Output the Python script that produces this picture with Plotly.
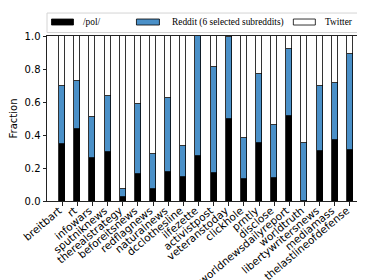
import plotly.graph_objects as go

categories = ["breitbart", "rt", "infowars", "sputniknews", "therealstrategy",
              "beforeitsnews", "redflagnews", "naturalnews", "dcclothesline", "ilfezette",
              "activistpost", "veteranstoday", "clickhole", "prntly", "disclose",
              "worldnewsdailyreport", "worldtruth", "libertywritersnews", "mediamass",
              "thelastlineofdefense"]
pol = [0.343, 0.435, 0.26, 0.294, 0.026, 0.165, 0.073, 0.177, 0.143, 0.274,
       0.167, 0.494, 0.131, 0.353, 0.139, 0.518, 0.0, 0.302, 0.367, 0.308]
reddit = [0.355, 0.293, 0.25, 0.343, 0.049, 0.422, 0.211, 0.448, 0.192, 0.726,
          0.646, 0.5, 0.248, 0.419, 0.319, 0.405, 0.349, 0.396, 0.351, 0.585]
twitter = [0.302, 0.272, 0.49, 0.363, 0.925, 0.413, 0.716, 0.375, 0.665, 0.0,
           0.188, 0.006, 0.621, 0.228, 0.542, 0.077, 0.651, 0.302, 0.282, 0.107]
yticks = [0.0, 0.2, 0.4, 0.6, 0.8, 1.0]
legend_labels = ["/pol/", "Reddit (6 selected subreddits)", "Twitter"]
colors = ["#000000", "#4a90c8", "#ffffff"]

fig = go.Figure()
for name, vals, col in zip(legend_labels, [pol, reddit, twitter], colors):
    fig.add_trace(go.Bar(x=categories, y=vals, name=name, width=0.4,
                         marker=dict(color=col, line=dict(color="#000000", width=0.8)),
                         showlegend=False))

W, H = 365, 280
L, R, T, B = 38.5, 356.7, 28, 193.3
pw, ph = R - L, B - T
def px(x): return (x - L) / pw
def py(y): return (B - y) / ph

# legend frame
fig.add_shape(type="rect", xref="paper", yref="paper", x0=px(38.5), x1=px(356.7),
              y0=py(24.5), y1=py(5), line=dict(color="#d4d4d4", width=1), fillcolor="white")
patch_x = [(43, 65, 73), (128, 151, 162), (285, 307, 315)]
for (a, b, t), lab, col in zip(patch_x, legend_labels, colors):
    fig.add_shape(type="rect", xref="paper", yref="paper", x0=px(a), x1=px(b),
                  y0=py(17), y1=py(11), fillcolor=col, line=dict(color="#000000", width=0.8))
    fig.add_annotation(xref="paper", yref="paper", x=px(t), y=py(14), text=lab,
                       showarrow=False, xanchor="left", yanchor="middle",
                       font=dict(family="Liberation Serif", size=9.4, color="black"))

fig.update_layout(
    barmode="stack", width=W, height=H, bargap=0,
    margin=dict(l=L, r=W - R, t=T, b=H - B, autoexpand=False),
    plot_bgcolor="white", paper_bgcolor="white",
    font=dict(family="DejaVu Sans", size=10, color="black"),
)
fig.update_xaxes(range=[-1, 20], showgrid=False, showline=True, mirror=True,
                 linecolor="#222", linewidth=1, ticks="outside", ticklen=3.5,
                 tickcolor="#222", tickangle=-40, tickfont=dict(size=10.5),
                 ticklabelstandoff=-5, ticklabelshift=-3)
fig.update_yaxes(range=[0, 1], tickvals=yticks, ticktext=[f"{v:.1f}" for v in yticks],
                 showgrid=False, zeroline=False, showline=True, mirror=True,
                 linecolor="#222", linewidth=1, ticks="outside", ticklen=3.5,
                 tickcolor="#222", tickfont=dict(size=10),
                 title=dict(text="Fraction", font=dict(size=10), standoff=9))
fig.write_html("out.html")
